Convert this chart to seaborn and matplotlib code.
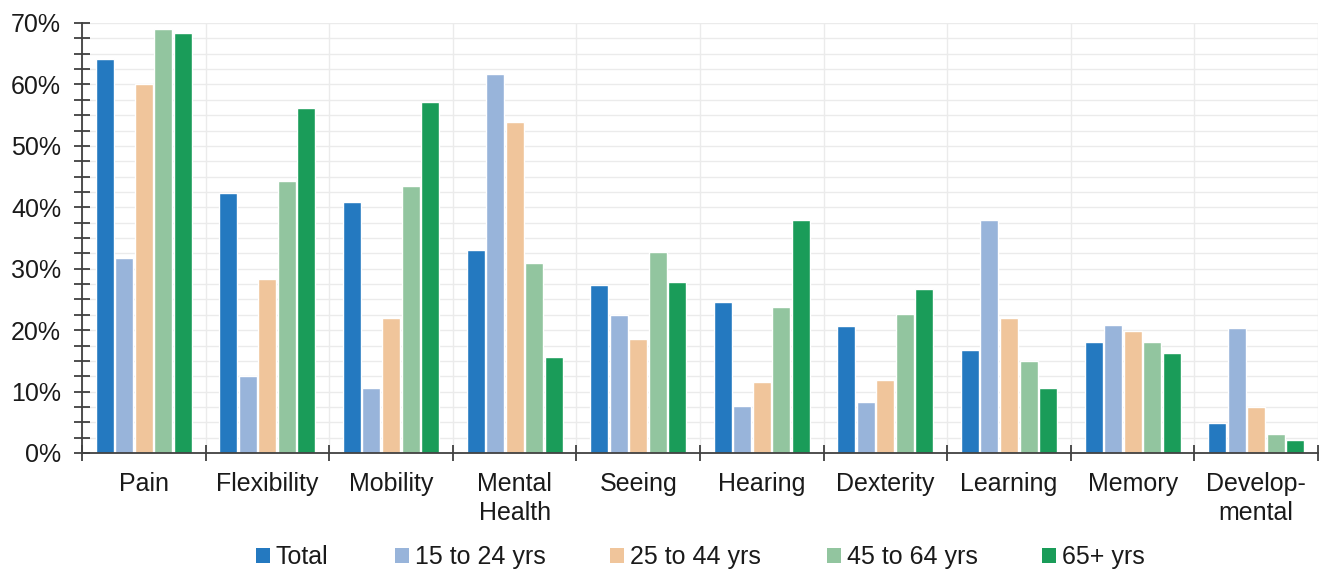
import numpy as np
import pandas as pd
import matplotlib
matplotlib.use("Agg")
import matplotlib.pyplot as plt
from matplotlib.ticker import MultipleLocator, FuncFormatter, FixedLocator
from matplotlib.patches import Patch
import seaborn as sns

categories = ["Pain", "Flexibility", "Mobility", "Mental\nHealth", "Seeing",
              "Hearing", "Dexterity", "Learning", "Memory", "Develop-\nmental"]
groups = ["Total", "15 to 24 yrs", "25 to 44 yrs", "45 to 64 yrs", "65+ yrs"]

total     = [64.1, 42.4, 40.9, 33.0, 27.3, 24.6, 20.6, 16.8, 18.1, 4.9]
age_15_24 = [31.8, 12.6, 10.6, 61.7, 22.4, 7.6, 8.3, 38.0, 20.8, 20.3]
age_25_44 = [60.1, 28.3, 22.0, 53.9, 18.6, 11.6, 11.9, 22.0, 19.9, 7.5]
age_45_64 = [69.1, 44.3, 43.5, 31.0, 32.7, 23.8, 22.6, 14.9, 18.1, 3.1]
age_65    = [68.4, 56.1, 57.1, 15.6, 27.9, 37.9, 26.7, 10.6, 16.2, 2.1]

colors = ["#2479c0", "#98b4da", "#f0c59b", "#92c59f", "#1a9c59"]

series = [total, age_15_24, age_25_44, age_45_64, age_65]
df = pd.DataFrame({
    "category": np.tile(categories, len(groups)),
    "group": np.repeat(groups, len(categories)),
    "value": np.concatenate(series),
})

sns.set_theme(style="white")
plt.rcParams["font.family"] = ["Liberation Sans", "DejaVu Sans"]

W, H = 1320, 571
fig = plt.figure(figsize=(W / 100, H / 100), dpi=100)
ax = fig.add_axes([82 / W, 1 - 453 / H, 1236 / W, 430 / H])

sns.barplot(data=df, x="category", y="value", hue="group",
            order=categories, hue_order=groups, palette=colors,
            width=0.79, gap=0.08, saturation=1, legend=False, ax=ax)

ax.set_ylim(0, 70)
ax.set_xlim(-0.5, len(categories) - 0.5)
ax.set_xlabel("")
ax.set_ylabel("")

ax.yaxis.set_major_locator(MultipleLocator(10))
ax.yaxis.set_minor_locator(MultipleLocator(2.5))
ax.yaxis.set_major_formatter(FuncFormatter(lambda v, p: f"{int(v)}%"))
ax.xaxis.set_minor_locator(FixedLocator(np.arange(-0.5, len(categories), 1.0)))

ax.grid(which="both", axis="y", color="#ebebeb", linewidth=1.0)
ax.grid(which="minor", axis="x", color="#ebebeb", linewidth=1.0)
ax.set_axisbelow(True)

for s in ["top", "right"]:
    ax.spines[s].set_visible(False)
for s in ["left", "bottom"]:
    ax.spines[s].set_color("#404040")
    ax.spines[s].set_linewidth(1.3)

ax.tick_params(axis="y", which="both", direction="inout", length=11,
               width=1.3, color="#404040", labelsize=18, pad=9.5,
               labelcolor="#1a1a1a", left=True)
ax.tick_params(axis="x", which="major", length=0, labelsize=18, pad=14,
               labelcolor="#1a1a1a")
ax.tick_params(axis="x", which="minor", direction="inout", length=11,
               width=1.3, color="#404040", bottom=True)
for lbl in ax.get_xticklabels():
    lbl.set_linespacing(1.25)

# legend entries placed individually along the bottom edge
legend_left_px = [256, 395, 610, 827, 1042]
for c, g, xp in zip(colors, groups, legend_left_px):
    leg = fig.legend(handles=[Patch(facecolor=c, edgecolor="none", label=g)],
                     loc="center left", bbox_to_anchor=(xp / W, 1 - 557 / H),
                     frameon=False, fontsize=18, handlelength=0.55,
                     handleheight=0.55, handletextpad=0.25, borderpad=0,
                     borderaxespad=0)
    leg.get_texts()[0].set_color("#1a1a1a")

fig.savefig("out.png", dpi=100)
